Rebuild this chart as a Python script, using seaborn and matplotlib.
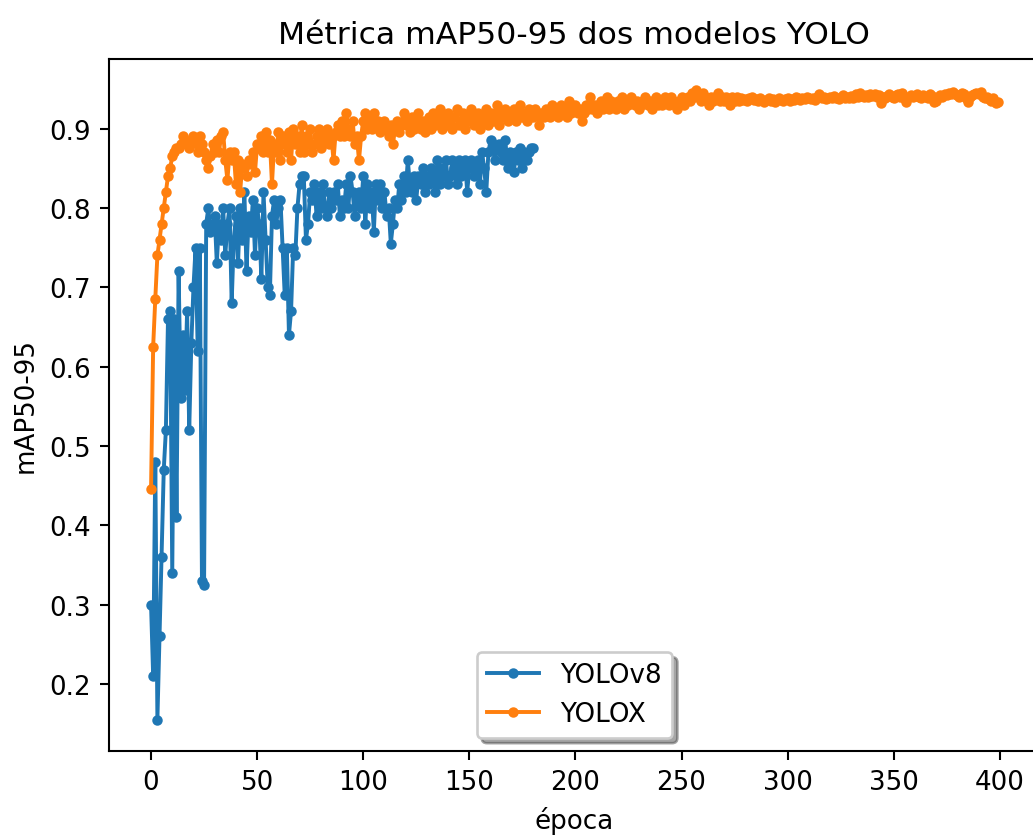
import numpy as np
import matplotlib
matplotlib.use("Agg")
import matplotlib.pyplot as plt
import seaborn as sns

# mAP50-95 por época
yolov8_map = [
    0.30, 0.21, 0.48, 0.155, 0.26, 0.36, 0.47, 0.52, 0.66, 0.67,
    0.34, 0.66, 0.41, 0.72, 0.56, 0.64, 0.57, 0.67, 0.52, 0.63,
    0.70, 0.75, 0.62, 0.75, 0.33, 0.325, 0.78, 0.80, 0.77, 0.78,
    0.79, 0.73, 0.78, 0.76, 0.80, 0.74, 0.78, 0.80, 0.68, 0.76,
    0.79, 0.73, 0.80, 0.76, 0.82, 0.72, 0.79, 0.77, 0.81, 0.74,
    0.80, 0.78, 0.71, 0.82, 0.76, 0.70, 0.69, 0.79, 0.81, 0.78,
    0.80, 0.81, 0.75, 0.69, 0.75, 0.64, 0.67, 0.75, 0.74, 0.80,
    0.83, 0.84, 0.84, 0.76, 0.78, 0.82, 0.81, 0.83, 0.79, 0.82,
    0.80, 0.83, 0.80, 0.79, 0.82, 0.80, 0.82, 0.81, 0.83, 0.79,
    0.81, 0.80, 0.83, 0.80, 0.84, 0.82, 0.79, 0.81, 0.82, 0.80,
    0.84, 0.78, 0.83, 0.80, 0.82, 0.77, 0.83, 0.81, 0.83, 0.80,
    0.82, 0.79, 0.80, 0.755, 0.78, 0.81, 0.80, 0.83, 0.81, 0.84,
    0.82, 0.86, 0.83, 0.82, 0.84, 0.81, 0.84, 0.83, 0.85, 0.82,
    0.84, 0.83, 0.85, 0.84, 0.82, 0.86, 0.83, 0.85, 0.84, 0.86,
    0.83, 0.84, 0.86, 0.85, 0.83, 0.86, 0.84, 0.85, 0.86, 0.82,
    0.85, 0.86, 0.84, 0.85, 0.86, 0.83, 0.87, 0.85, 0.82, 0.87,
    0.885, 0.88, 0.86, 0.875, 0.88, 0.87, 0.86, 0.885, 0.85, 0.87,
    0.86, 0.845, 0.87, 0.86, 0.875, 0.85, 0.87, 0.86, 0.87, 0.875,
    0.875,
]

yolox_map = [
    0.445, 0.625, 0.685, 0.74, 0.76, 0.78, 0.80, 0.82, 0.84, 0.85,
    0.865, 0.87, 0.875, 0.875, 0.88, 0.89, 0.885, 0.88, 0.875, 0.88,
    0.89, 0.885, 0.87, 0.89, 0.88, 0.87, 0.86, 0.85, 0.865, 0.88,
    0.87, 0.885, 0.87, 0.89, 0.895, 0.86, 0.835, 0.87, 0.86, 0.87,
    0.83, 0.86, 0.82, 0.855, 0.85, 0.84, 0.86, 0.855, 0.87, 0.845,
    0.88, 0.875, 0.89, 0.87, 0.895, 0.87, 0.885, 0.83, 0.88, 0.87,
    0.895, 0.86, 0.89, 0.88, 0.87, 0.895, 0.86, 0.90, 0.88, 0.89,
    0.87, 0.905, 0.87, 0.89, 0.88, 0.90, 0.87, 0.88, 0.89, 0.90,
    0.875, 0.89, 0.885, 0.90, 0.88, 0.89, 0.86, 0.895, 0.905, 0.89,
    0.91, 0.89, 0.92, 0.90, 0.89, 0.91, 0.88, 0.89, 0.86, 0.89,
    0.91, 0.92, 0.90, 0.915, 0.90, 0.92, 0.905, 0.91, 0.895, 0.90,
    0.91, 0.90, 0.89, 0.905, 0.88, 0.90, 0.91, 0.895, 0.905, 0.92,
    0.905, 0.91, 0.895, 0.915, 0.90, 0.905, 0.92, 0.90, 0.91, 0.895,
    0.905, 0.915, 0.90, 0.92, 0.905, 0.91, 0.925, 0.90, 0.915, 0.905,
    0.92, 0.91, 0.90, 0.915, 0.925, 0.905, 0.91, 0.92, 0.90, 0.915,
    0.91, 0.925, 0.905, 0.915, 0.92, 0.90, 0.915, 0.91, 0.925, 0.905,
    0.92, 0.91, 0.915, 0.93, 0.905, 0.92, 0.915, 0.925, 0.91, 0.92,
    0.915, 0.925, 0.91, 0.92, 0.93, 0.915, 0.92, 0.91, 0.925, 0.92,
    0.915, 0.925, 0.92, 0.905, 0.92, 0.915, 0.925, 0.92, 0.915, 0.93,
    0.92, 0.925, 0.915, 0.93, 0.92, 0.925, 0.915, 0.935, 0.92, 0.925,
    0.93, 0.92, 0.925, 0.91, 0.92, 0.93, 0.925, 0.94, 0.925, 0.93,
    0.92, 0.93, 0.935, 0.925, 0.93, 0.94, 0.925, 0.935, 0.93, 0.925,
    0.935, 0.93, 0.94, 0.925, 0.935, 0.93, 0.94, 0.935, 0.93, 0.935,
    0.925, 0.93, 0.935, 0.94, 0.93, 0.935, 0.925, 0.935, 0.94, 0.93,
    0.935, 0.93, 0.94, 0.935, 0.93, 0.94, 0.935, 0.93, 0.925, 0.935,
    0.94, 0.93, 0.935, 0.94, 0.935, 0.945, 0.94, 0.948, 0.94, 0.935,
    0.945, 0.94, 0.935, 0.93, 0.94, 0.935, 0.94, 0.945, 0.935, 0.94,
    0.935, 0.94, 0.935, 0.93, 0.94, 0.935, 0.94, 0.935, 0.938, 0.936,
    0.937, 0.935, 0.938, 0.94, 0.936, 0.937, 0.935, 0.938, 0.936, 0.934,
    0.936, 0.938, 0.935, 0.937, 0.934, 0.936, 0.938, 0.936, 0.935, 0.937,
    0.938, 0.935, 0.937, 0.936, 0.94, 0.938, 0.936, 0.939, 0.937, 0.94,
    0.938, 0.937, 0.939, 0.936, 0.94, 0.944, 0.938, 0.94, 0.937, 0.939,
    0.94, 0.938, 0.941, 0.939, 0.937, 0.94, 0.942, 0.938, 0.94, 0.939,
    0.941, 0.939, 0.943, 0.94, 0.945, 0.941, 0.94, 0.942, 0.94, 0.943,
    0.941, 0.944, 0.94, 0.942, 0.932, 0.94, 0.938, 0.941, 0.943, 0.94,
    0.938, 0.942, 0.944, 0.94, 0.945, 0.938, 0.934, 0.94, 0.942, 0.94,
    0.941, 0.943, 0.94, 0.938, 0.942, 0.94, 0.939, 0.943, 0.941, 0.933,
    0.935, 0.94, 0.942, 0.94, 0.944, 0.942, 0.945, 0.943, 0.946, 0.944,
    0.942, 0.94, 0.945, 0.944, 0.938, 0.934, 0.94, 0.942, 0.944, 0.945,
    0.944, 0.946, 0.94, 0.938, 0.94, 0.937, 0.935, 0.938, 0.932, 0.933,
]

series = [("YOLOv8", yolov8_map, "#1f77b4"), ("YOLOX", yolox_map, "#ff7f0e")]


def plot_map():
    dpi = 188
    fig = plt.figure(figsize=(1033 / dpi, 839 / dpi), dpi=dpi)
    ax = fig.add_axes([108.7 / 1033, 87 / 839, 931.3 / 1033, 692 / 839])

    for name, vals, color in series:
        epochs = np.arange(len(vals))
        sns.lineplot(x=epochs, y=vals, ax=ax, label=name, color=color,
                     marker=".", markersize=6, markeredgecolor=color,
                     markeredgewidth=1, linewidth=1.5)

    ax.set_title("Métrica mAP50-95 dos modelos YOLO", fontsize=12)
    ax.set_xlabel("época")
    ax.set_ylabel("mAP50-95")
    ax.set_xticks(range(0, 401, 50))
    ax.legend(loc="lower center", shadow=True, fancybox=True)
    fig.savefig("out.png", dpi=dpi)


if __name__ == "__main__":
    plot_map()
